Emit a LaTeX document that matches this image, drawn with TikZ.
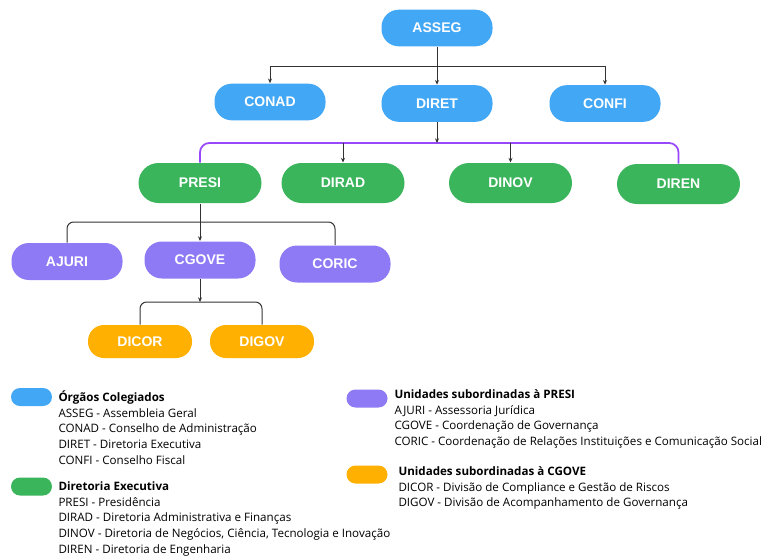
\documentclass[tikz,border=0pt]{standalone}
\usepackage{fontspec}
\setmainfont{Open Sans}
\newfontfamily\boxfont{Liberation Sans}
\usetikzlibrary{arrows.meta,calc}

\definecolor{blueorg}{RGB}{66,167,245}
\definecolor{greendir}{RGB}{58,181,92}
\definecolor{purpleuni}{RGB}{142,122,245}
\definecolor{orangeuni}{RGB}{255,176,0}
\definecolor{purpleline}{RGB}{150,72,250}
\definecolor{linkgray}{RGB}{50,50,50}

\tikzset{every picture/.style={line width=0.75pt}}
\tikzset{
  unit/.style={rounded corners=13pt, inner sep=0pt, text=white,
    font=\boxfont\bfseries\fontsize{10.5}{12}\selectfont},
  colegiado/.style={unit, fill=blueorg, minimum width=83.25pt, minimum height=27.5pt},
  diretoria/.style={unit, fill=greendir, minimum width=92.25pt, minimum height=30pt, rounded corners=15pt},
  subpresi/.style={unit, fill=purpleuni, minimum width=83.25pt, minimum height=27.75pt},
  subcgove/.style={unit, fill=orangeuni, minimum width=78pt, minimum height=24.75pt, rounded corners=12pt},
  link/.style={draw=linkgray, line width=0.75pt, rounded corners=5pt},
  linkarrow/.style={link, -{Stealth[length=3.5pt,width=3pt]}},
  keypill/.style={rounded corners=6.75pt, minimum width=30.75pt, minimum height=13.5pt, inner sep=0pt},
  keytext/.style={anchor=north west, inner sep=0pt, align=left, font=\fontsize{8.7}{11.8}\selectfont}
}

\begin{document}
\begin{tikzpicture}[x=0.75pt,y=0.75pt,yscale=-1,xscale=1]
	\useasboundingbox (0,0) rectangle (761,557);

	% Orgaos colegiados
	\node[colegiado] (asseg) at (437,28) {ASSEG};
	\node[colegiado] (conad) at (270,102) {CONAD};
	\node[colegiado] (diret) at (437,103.5) {DIRET};
	\node[colegiado] (confi) at (605,103.5) {CONFI};

	% Diretoria executiva
	\node[diretoria] (presi) at (200,183) {PRESI};
	\node[diretoria] (dirad) at (343,183) {DIRAD};
	\node[diretoria] (dinov) at (510.5,183) {DINOV};
	\node[diretoria] (diren) at (678.5,184) {DIREN};

	% Unidades subordinadas a PRESI
	\node[subpresi] (ajuri) at (67,261.5) {AJURI};
	\node[subpresi] (cgove) at (200,260) {CGOVE};
	\node[subpresi] (coric) at (335,264) {CORIC};

	% Unidades subordinadas a CGOVE
	\node[subcgove] (dicor) at (140,341.5) {DICOR};
	\node[subcgove] (digov) at (262,341.5) {DIGOV};

	% ligacoes
	\coordinate (busasseg) at (437,66);
	\coordinate (busdiret) at (437,143);
	\coordinate (buspresi) at (200,222);
	\coordinate (buscgove) at (200,302);

	\draw[linkarrow, rounded corners=0pt] (asseg.south) -- (diret.north);
	\draw[linkarrow, rounded corners=0pt] (busasseg) -| (conad.north);
	\draw[linkarrow, rounded corners=0pt] (busasseg) -| (confi.north);

	\draw[draw=purpleline, line width=1.3pt, rounded corners=7pt] (presi.north) |- (busdiret) -| (diren.north);
	\draw[linkarrow] (diret.south) -- (busdiret);
	\draw[linkarrow] (dirad.north |- busdiret) -- (dirad.north);
	\draw[linkarrow] (dinov.north |- busdiret) -- (dinov.north);

	\draw[linkarrow] (presi.south) -- (cgove.north);
	\draw[link] (ajuri.north) |- (buspresi) -| (coric.north);

	\draw[linkarrow] (cgove.south) -- (buscgove);
	\draw[link] (dicor.north) |- (buscgove) -| (digov.north);

	% Legenda
	\node[keypill, fill=blueorg] (keyorg) at (31.5,397) {};
	\node[keytext] (txtorg) at (58,390) {\textbf{Órgãos Colegiados}\\
		ASSEG - Assembleia Geral\\
		CONAD - Conselho de Administração\\
		DIRET - Diretoria Executiva\\
		CONFI - Conselho Fiscal};

	\node[keypill, fill=greendir] (keydir) at (31.5,486.5) {};
	\node[keytext] (txtdir) at (58,481) {\textbf{Diretoria Executiva}\\
		PRESI - Presidência\\
		DIRAD - Diretoria Administrativa e Finanças\\
		DINOV - Diretoria de Negócios, Ciência, Tecnologia e Inovação\\
		DIREN - Diretoria de Engenharia};

	\node[keypill, fill=purpleuni] (keypresi) at (367,398.5) {};
	\node[keytext] (txtpresi) at (394,389) {\textbf{Unidades subordinadas à PRESI}\\
		AJURI - Assessoria Jurídica\\
		CGOVE - Coordenação de Governança\\
		CORIC - Coordenação de Relações Instituições e Comunicação Social};

	\node[keytext] (txtcgove) at (398,466) {\textbf{Unidades subordinadas à CGOVE}\\
		DICOR - Divisão de Compliance e Gestão de Riscos\\
		DIGOV - Divisão de Acompanhamento de Governança};
	\node[keypill, fill=orangeuni] (keycgove) at (367,474.5) {};

\end{tikzpicture}
\end{document}
